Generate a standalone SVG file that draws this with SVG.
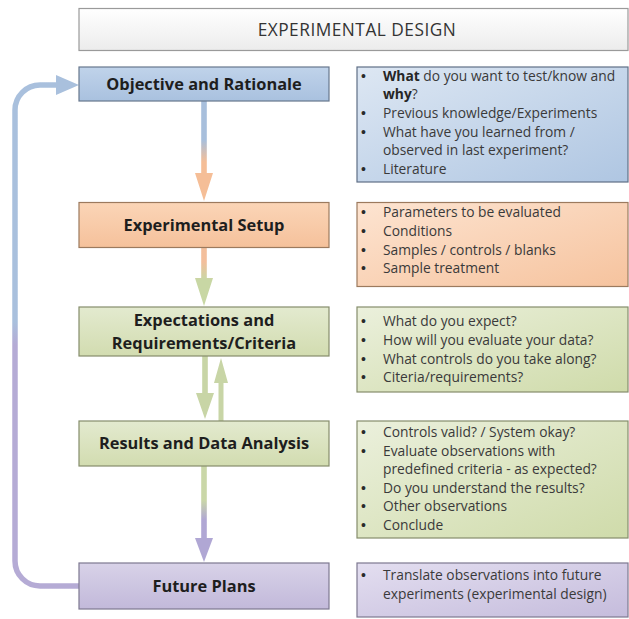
<svg xmlns="http://www.w3.org/2000/svg" width="629" height="619" viewBox="0 0 629 619">
  <style>
    .title { font-family: "Open Sans", "Liberation Sans", Arial, sans-serif; font-size: 17.3px; letter-spacing: 0.5px; fill: #333333; text-anchor: middle; }
    .node-label { font-family: "Open Sans", "Liberation Sans", Arial, sans-serif; font-size: 16.4px; font-weight: bold; fill: #1e1e1e; text-anchor: middle; }
    .bullets { font-family: "Open Sans", "Liberation Sans", Arial, sans-serif; font-size: 13.8px; fill: #3a3a3a; }
    .bullets .b { font-weight: bold; fill: #262626; }
    .bullets .dot { font-family: "Liberation Sans", Arial, sans-serif; font-size: 14px; fill: #2a2a2a; }
    .node-box { stroke-width: 1.2; }
    .info-box { stroke-width: 1.2; }
  </style>
  <defs>
    <linearGradient id="titleFill" x1="0" y1="0" x2="0" y2="1">
      <stop offset="0" stop-color="#ffffff"/>
      <stop offset="1" stop-color="#ececec"/>
    </linearGradient>
    <linearGradient id="blueNode" x1="0" y1="0" x2="0" y2="1">
      <stop offset="0" stop-color="#c0d3ea"/>
      <stop offset="1" stop-color="#a9c1df"/>
    </linearGradient>
    <linearGradient id="blueInfo" x1="0" y1="0" x2="1" y2="1">
      <stop offset="0" stop-color="#dde7f3"/>
      <stop offset="1" stop-color="#afc6e2"/>
    </linearGradient>
    <linearGradient id="orangeNode" x1="0" y1="0" x2="0" y2="1">
      <stop offset="0" stop-color="#fbd5b7"/>
      <stop offset="1" stop-color="#f5c19b"/>
    </linearGradient>
    <linearGradient id="orangeInfo" x1="0" y1="0" x2="1" y2="1">
      <stop offset="0" stop-color="#fde4d1"/>
      <stop offset="1" stop-color="#f6c39e"/>
    </linearGradient>
    <linearGradient id="greenNode" x1="0" y1="0" x2="0" y2="1">
      <stop offset="0" stop-color="#e3eacf"/>
      <stop offset="1" stop-color="#d2dcb0"/>
    </linearGradient>
    <linearGradient id="greenInfo" x1="0" y1="0" x2="1" y2="1">
      <stop offset="0" stop-color="#ebf0dc"/>
      <stop offset="1" stop-color="#cfdbaa"/>
    </linearGradient>
    <linearGradient id="purpleNode" x1="0" y1="0" x2="0" y2="1">
      <stop offset="0" stop-color="#d8d2e8"/>
      <stop offset="1" stop-color="#c2b9da"/>
    </linearGradient>
    <linearGradient id="purpleInfo" x1="0" y1="0" x2="1" y2="1">
      <stop offset="0" stop-color="#e3def0"/>
      <stop offset="1" stop-color="#c5bcdc"/>
    </linearGradient>

    <!-- connector colour blends, in page coordinates -->
    <linearGradient id="blueToOrange" gradientUnits="userSpaceOnUse" x1="0" y1="140" x2="0" y2="162">
      <stop offset="0" stop-color="#a8bfdc"/>
      <stop offset="1" stop-color="#f5be97"/>
    </linearGradient>
    <linearGradient id="orangeToGreen" gradientUnits="userSpaceOnUse" x1="0" y1="262" x2="0" y2="280">
      <stop offset="0" stop-color="#f3bf9c"/>
      <stop offset="1" stop-color="#c8d7a4"/>
    </linearGradient>
    <linearGradient id="greenToPurple" gradientUnits="userSpaceOnUse" x1="0" y1="500" x2="0" y2="520">
      <stop offset="0" stop-color="#cad7a8"/>
      <stop offset="1" stop-color="#b0a7d4"/>
    </linearGradient>
    <linearGradient id="loopBlend" gradientUnits="userSpaceOnUse" x1="0" y1="322" x2="0" y2="345">
      <stop offset="0" stop-color="#a9c0dd"/>
      <stop offset="1" stop-color="#b5abd5"/>
    </linearGradient>
  </defs>

  <rect width="629" height="619" fill="#ffffff"/>

  <!-- heading -->
  <g id="title">
    <rect x="79" y="8.5" width="549" height="42" fill="url(#titleFill)" stroke="#9a9a9a" stroke-width="1.2"/>
    <text class="title" x="357" y="35.5">EXPERIMENTAL DESIGN</text>
  </g>

  <!-- connectors -->
  <g id="connectors">
    <!-- Objective -> Setup -->
    <polygon fill="url(#blueToOrange)" points="201.2,101 206.8,101 206.8,173 213,173 204,201 195,173 201.2,173"/>
    <!-- Setup -> Expectations -->
    <polygon fill="url(#orangeToGreen)" points="201.2,247 206.8,247 206.8,278 213,278 204,306 195,278 201.2,278"/>
    <!-- Expectations -> Results -->
    <polygon fill="#c8d5a6" points="202.2,356 207.8,356 207.8,393 214,393 205,419 196,393 202.2,393"/>
    <!-- Results -> Expectations -->
    <polygon fill="#c8d5a6" points="218.5,421 223.5,421 223.5,383 228,383 221,358 214,383 218.5,383"/>
    <!-- Results -> Future Plans -->
    <polygon fill="url(#greenToPurple)" points="201.2,466 206.8,466 206.8,538 213,538 204,562 195,538 201.2,538"/>
    <!-- Future Plans -> Objective (feedback loop) -->
    <path d="M79,586 H40 A25,25 0 0 1 15,561 V110 A25,25 0 0 1 40,85 H57" fill="none" stroke="url(#loopBlend)" stroke-width="5.5"/>
    <polygon fill="#a9c0dd" points="56,75 79,85 56,95"/>
  </g>

  <!-- stage 1 -->
  <g id="objective">
    <rect class="node-box" x="79" y="67" width="250" height="34" fill="url(#blueNode)" stroke="#67778d"/>
    <text class="node-label" x="204" y="90">Objective and Rationale</text>
  </g>
  <g id="objective-notes">
    <rect class="info-box" x="357" y="67" width="271" height="115" fill="url(#blueInfo)" stroke="#5f6f86"/>
    <text class="bullets">
      <tspan class="dot" x="361" y="81">•</tspan><tspan x="383" y="81"><tspan class="b">What</tspan> do you want to test/know and</tspan>
      <tspan x="383" y="99"><tspan class="b">why</tspan>?</tspan>
      <tspan class="dot" x="361" y="118">•</tspan><tspan x="383" y="118">Previous knowledge/Experiments</tspan>
      <tspan class="dot" x="361" y="137">•</tspan><tspan x="383" y="137">What have you learned from /</tspan>
      <tspan x="383" y="155">observed in last experiment?</tspan>
      <tspan class="dot" x="361" y="174">•</tspan><tspan x="383" y="174">Literature</tspan>
    </text>
  </g>

  <!-- stage 2 -->
  <g id="setup">
    <rect class="node-box" x="79" y="202.5" width="250" height="45" fill="url(#orangeNode)" stroke="#9c7a5e"/>
    <text class="node-label" x="204" y="231">Experimental Setup</text>
  </g>
  <g id="setup-notes">
    <rect class="info-box" x="357" y="202.5" width="271" height="84" fill="url(#orangeInfo)" stroke="#9c7a5e"/>
    <text class="bullets">
      <tspan class="dot" x="361" y="217">•</tspan><tspan x="383" y="217">Parameters to be evaluated</tspan>
      <tspan class="dot" x="361" y="236">•</tspan><tspan x="383" y="236">Conditions</tspan>
      <tspan class="dot" x="361" y="255">•</tspan><tspan x="383" y="255">Samples / controls / blanks</tspan>
      <tspan class="dot" x="361" y="273">•</tspan><tspan x="383" y="273">Sample treatment</tspan>
    </text>
  </g>

  <!-- stage 3 -->
  <g id="expectations">
    <rect class="node-box" x="79" y="307" width="250" height="49" fill="url(#greenNode)" stroke="#858d6c"/>
    <text class="node-label" x="204" y="326">Expectations and</text>
    <text class="node-label" x="204" y="349">Requirements/Criteria</text>
  </g>
  <g id="expectations-notes">
    <rect class="info-box" x="357" y="307" width="271" height="85" fill="url(#greenInfo)" stroke="#858d6c"/>
    <text class="bullets">
      <tspan class="dot" x="361" y="326">•</tspan><tspan x="383" y="326">What do you expect?</tspan>
      <tspan class="dot" x="361" y="345">•</tspan><tspan x="383" y="345">How will you evaluate your data?</tspan>
      <tspan class="dot" x="361" y="364">•</tspan><tspan x="383" y="364">What controls do you take along?</tspan>
      <tspan class="dot" x="361" y="382">•</tspan><tspan x="383" y="382">Citeria/requirements?</tspan>
    </text>
  </g>

  <!-- stage 4 -->
  <g id="results">
    <rect class="node-box" x="79" y="421" width="250" height="45" fill="url(#greenNode)" stroke="#858d6c"/>
    <text class="node-label" x="204" y="449">Results and Data Analysis</text>
  </g>
  <g id="results-notes">
    <rect class="info-box" x="357" y="421" width="271" height="117" fill="url(#greenInfo)" stroke="#858d6c"/>
    <text class="bullets">
      <tspan class="dot" x="361" y="437">•</tspan><tspan x="383" y="437">Controls valid? / System okay?</tspan>
      <tspan class="dot" x="361" y="456">•</tspan><tspan x="383" y="456">Evaluate observations with</tspan>
      <tspan x="383" y="474">predefined criteria - as expected?</tspan>
      <tspan class="dot" x="361" y="493">•</tspan><tspan x="383" y="493">Do you understand the results?</tspan>
      <tspan class="dot" x="361" y="511">•</tspan><tspan x="383" y="511">Other observations</tspan>
      <tspan class="dot" x="361" y="530">•</tspan><tspan x="383" y="530">Conclude</tspan>
    </text>
  </g>

  <!-- stage 5 -->
  <g id="future">
    <rect class="node-box" x="79" y="563" width="250" height="46" fill="url(#purpleNode)" stroke="#7d7890"/>
    <text class="node-label" x="204" y="592">Future Plans</text>
  </g>
  <g id="future-notes">
    <rect class="info-box" x="357" y="563" width="271" height="54" fill="url(#purpleInfo)" stroke="#7d7890"/>
    <text class="bullets">
      <tspan class="dot" x="361" y="580">•</tspan><tspan x="383" y="580">Translate observations into future</tspan>
      <tspan x="383" y="599">experiments (experimental design)</tspan>
    </text>
  </g>
</svg>
